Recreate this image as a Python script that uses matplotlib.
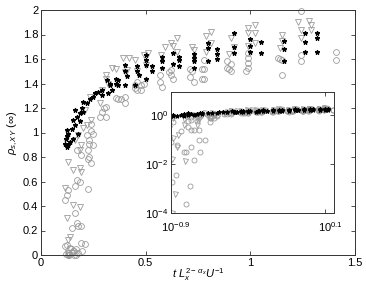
import matplotlib
matplotlib.use("Agg")
import matplotlib.pyplot as plt
import matplotlib.transforms as mtransforms

plt.rcParams['font.family'] = ['Liberation Sans', 'DejaVu Sans']
plt.rcParams['mathtext.fontset'] = 'custom'
plt.rcParams['mathtext.rm'] = 'Liberation Sans'
plt.rcParams['mathtext.it'] = 'Liberation Sans:italic'
plt.rcParams['mathtext.bf'] = 'Liberation Sans:bold'

# ---- data ----
tri_x = [0.127, 0.134, 0.127, 0.155, 0.137, 0.14, 0.13, 0.122, 0.154, 0.186,
         0.114, 0.154, 0.13, 0.186, 0.19, 0.186, 0.162, 0.178, 0.20, 0.22,
         0.24, 0.19, 0.233, 0.21, 0.28, 0.29, 0.31, 0.32, 0.34, 0.31,
         0.36, 0.39, 0.40, 0.41, 0.42, 0.45, 0.46, 0.49, 0.50, 0.51,
         0.575, 0.59, 0.62, 0.63, 0.65, 0.65, 0.72, 0.73, 0.79, 0.81,
         0.81, 0.79, 0.90, 0.91, 0.92, 0.99, 1.02, 0.99, 1.02, 0.99,
         1.02, 1.15, 1.15, 1.14, 1.23, 1.24, 1.28, 1.29, 1.29, 1.24]
tri_y = [0.0001, 0.0006, 0.016, 0.013, 0.049, 0.15, 0.12, 0.30, 0.41, 0.39,
         0.55, 0.69, 0.76, 0.71, 0.68, 0.86, 0.94, 0.98, 1.04, 1.06,
         1.10, 0.90, 1.29, 1.18, 1.24, 1.35, 1.47, 1.40, 1.53, 1.44,
         1.52, 1.61, 1.49, 1.51, 1.61, 1.59, 1.50, 1.63, 1.55, 1.65,
         1.63, 1.70, 1.73, 1.71, 1.77, 1.66, 1.70, 1.67, 1.79, 1.82,
         1.73, 1.66, 1.64, 1.77, 1.70, 1.85, 1.88, 1.81, 1.81, 1.71,
         1.73, 1.80, 1.75, 1.69, 1.90, 1.84, 1.91, 1.88, 1.84, 1.77]

star_x = [0.122, 0.119, 0.13, 0.146, 0.162, 0.154, 0.17, 0.186, 0.201, 0.194,
          0.218, 0.233, 0.249, 0.257, 0.273, 0.201, 0.313, 0.329, 0.321, 0.368,
          0.337, 0.138, 0.154, 0.178, 0.122, 0.162, 0.186, 0.13, 0.115, 0.125,
          0.29, 0.29, 0.33, 0.36, 0.36, 0.40, 0.40, 0.41, 0.40, 0.37,
          0.46, 0.46, 0.47, 0.45, 0.50, 0.50, 0.50, 0.53, 0.53, 0.50,
          0.58, 0.58, 0.58, 0.63, 0.63, 0.66, 0.66, 0.66, 0.73, 0.73,
          0.73, 0.73, 0.80, 0.80, 0.80, 0.84, 0.84, 0.84, 0.92, 0.92,
          0.92, 1.00, 1.00, 1.00, 1.05, 1.05, 1.16, 1.16, 1.16, 1.26,
          1.26, 1.26, 1.32, 1.32, 1.32]
star_y = [0.88, 0.95, 0.99, 1.03, 1.06, 1.10, 1.13, 1.16, 1.17, 1.20,
          1.24, 1.27, 1.29, 1.32, 1.33, 1.25, 1.43, 1.40, 1.32, 1.43,
          1.35, 0.92, 0.95, 0.99, 1.02, 1.18, 1.09, 0.90, 0.91, 0.97,
          1.35, 1.31, 1.39, 1.44, 1.40, 1.55, 1.50, 1.46, 1.39, 1.39,
          1.54, 1.50, 1.47, 1.39, 1.63, 1.59, 1.55, 1.54, 1.50, 1.44,
          1.62, 1.58, 1.53, 1.65, 1.56, 1.62, 1.59, 1.54, 1.64, 1.61,
          1.58, 1.53, 1.73, 1.69, 1.58, 1.68, 1.64, 1.60, 1.81, 1.70,
          1.65, 1.76, 1.71, 1.66, 1.74, 1.65, 1.75, 1.68, 1.58, 1.81,
          1.74, 1.66, 1.81, 1.77, 1.66]

circ_x = [0.127, 0.136, 0.157, 0.167, 0.158, 0.169, 0.194, 0.21, 0.126, 0.19,
          0.114, 0.138, 0.154, 0.178, 0.12, 0.19, 0.146, 0.178, 0.17, 0.162,
          0.114, 0.122, 0.13, 0.162, 0.17, 0.186, 0.225, 0.19, 0.225, 0.24,
          0.225, 0.23, 0.25, 0.24, 0.22, 0.24, 0.23, 0.25, 0.17, 0.23,
          0.29, 0.28, 0.30, 0.31, 0.31, 0.36, 0.37, 0.40, 0.40, 0.38,
          0.45, 0.46, 0.48, 0.48, 0.45, 0.46, 0.49, 0.57, 0.58, 0.57,
          0.62, 0.63, 0.62, 0.61, 0.71, 0.72, 0.73, 0.71, 0.77, 0.77,
          0.78, 0.78, 0.78, 0.89, 0.89, 0.91, 0.90, 0.91, 0.99, 0.99,
          0.99, 0.99, 0.98, 1.13, 1.14, 1.15, 1.15, 1.24, 1.24, 1.24,
          1.41, 1.41]
circ_y = [0.0018, 0.0037, 0.00024, 0.0013, 0.031, 0.052, 0.031, 0.093, 0.079, 0.24,
          0.07, 0.06, 0.03, 0.015, 0.01, 0.10, 0.22, 0.24, 0.26, 0.34,
          0.45, 0.49, 0.53, 0.56, 0.61, 0.60, 0.54, 0.82, 0.78, 0.75,
          0.86, 0.91, 0.99, 1.07, 0.98, 1.01, 0.94, 0.90, 0.86, 0.80,
          1.17, 1.13, 1.20, 1.21, 1.13, 1.28, 1.27, 1.29, 1.24, 1.27,
          1.36, 1.35, 1.39, 1.35, 1.39, 1.41, 1.40, 1.41, 1.37, 1.47,
          1.47, 1.44, 1.51, 1.49, 1.52, 1.50, 1.41, 1.45, 1.44, 1.52,
          1.59, 1.52, 1.44, 1.58, 1.53, 1.56, 1.52, 1.50, 1.65, 1.61,
          1.57, 1.53, 1.50, 1.61, 1.60, 1.59, 1.47, 1.99, 1.63, 1.58,
          1.66, 1.59]

xticks_main = [0, 0.5, 1, 1.5]
xticklabels_main = ['0', '0.5', '1', '1.5']
yticks_main = [0, 0.2, 0.4, 0.6, 0.8, 1.0, 1.2, 1.4, 1.6, 1.8, 2.0]
yticklabels_main = ['0', '0.2', '0.4', '0.6', '0.8', '1', '1.2', '1.4', '1.6', '1.8', '2']
inset_xticks = [10 ** -0.9, 10 ** 0.1]
inset_xticklabels = [r'$10^{-0.9}$', r'$10^{0.1}$']
inset_yticks = [1e-4, 1e-2, 1e0]
inset_yticklabels = [r'$10^{-4}$', r'$10^{-2}$', r'$10^{0}$']

GRAY = '#9c9c9c'
SPINE = '#333333'

fig = plt.figure(figsize=(3.66, 2.88), dpi=100)
ax = fig.add_axes([41 / 366, 1 - 255 / 288, 314 / 366, 245 / 288])


def draw(a, clip, ms, sms):
    a.plot(circ_x, circ_y, linestyle='none', marker='o', mfc='none', mec=GRAY,
           mew=0.6, ms=ms, clip_on=clip)
    a.plot(tri_x, tri_y, linestyle='none', marker='v', mfc='none', mec=GRAY,
           mew=0.6, ms=ms, clip_on=clip)
    a.plot(star_x, star_y, linestyle='none', marker='*', color='black',
           mew=0.8, ms=sms, clip_on=clip)


draw(ax, False, 4.2, 3.4)
ax.set_xlim(0, 1.5)
ax.set_ylim(0, 2)
ax.set_xticks(xticks_main)
ax.set_xticklabels(xticklabels_main)
ax.set_yticks(yticks_main)
ax.set_yticklabels(yticklabels_main)
ax.tick_params(direction='in', length=3, width=0.6, labelsize=8, top=True,
               right=True, pad=2, colors=SPINE, labelcolor='black')
for s in ax.spines.values():
    s.set_linewidth(0.7)
    s.set_color(SPINE)
ax.set_xlabel(r'$t\ L_x^{2-\,\alpha_x}U^{-1}$', fontsize=8, labelpad=-1)
ax.set_ylabel(r'$\rho_{s,XY}$ $(\infty)$', fontsize=8, labelpad=2)

ins = fig.add_axes([171 / 366, 1 - 213 / 288, 163 / 366, 121 / 288])
draw(ins, True, 3.6, 3.0)
ins.set_xscale('log')
ins.set_yscale('log')
ins.set_xlim(10 ** -0.9, 10 ** 0.158)
ins.set_ylim(1e-4, 10 ** 0.95)
ins.set_xticks(inset_xticks)
ins.set_xticklabels(inset_xticklabels)
ins.set_yticks(inset_yticks)
ins.set_yticklabels(inset_yticklabels)
ins.minorticks_off()
ins.tick_params(direction='in', length=3, width=0.6, labelsize=8, top=True,
                right=True, pad=2, colors=SPINE, labelcolor='black')
ins.tick_params(axis='x', pad=5)
shift = mtransforms.ScaledTranslation(5 / 100, 0, fig.dpi_scale_trans)
for lab in ins.get_xticklabels():
    lab.set_transform(lab.get_transform() + shift)
for s in ins.spines.values():
    s.set_linewidth(0.7)
    s.set_color(SPINE)

fig.savefig('out.png', dpi=100)
